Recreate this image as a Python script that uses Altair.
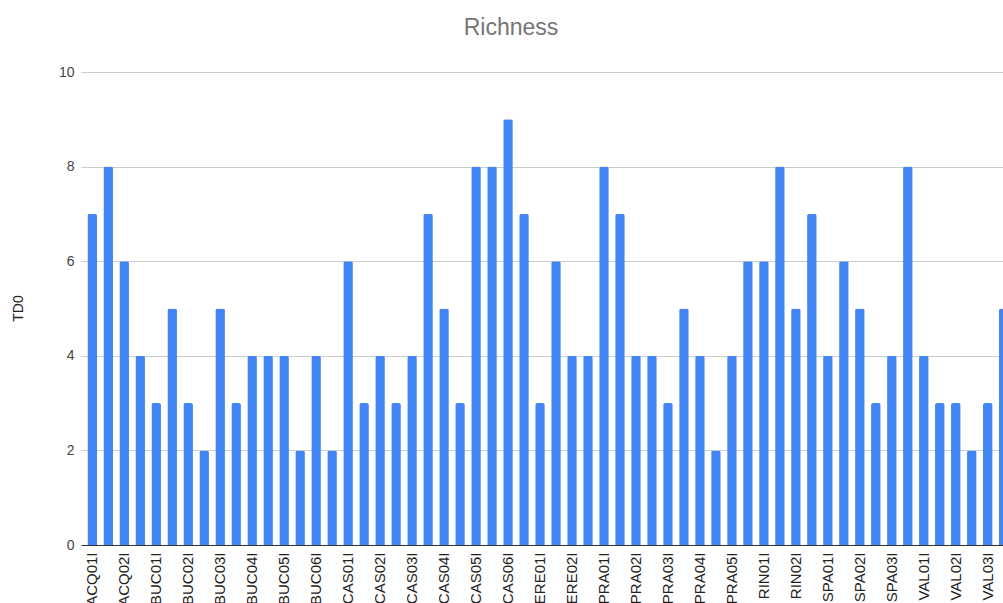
import altair as alt
import pandas as pd

samples = [
    "ACQ01I", "ACQ01F", "ACQ02I", "ACQ02F", "BUC01I", "BUC01F", "BUC02I", "BUC02F",
    "BUC03I", "BUC03F", "BUC04I", "BUC04F", "BUC05I", "BUC05F", "BUC06I", "BUC06F",
    "CAS01I", "CAS01F", "CAS02I", "CAS02F", "CAS03I", "CAS03F", "CAS04I", "CAS04F",
    "CAS05I", "CAS05F", "CAS06I", "CAS06F", "ERE01I", "ERE01F", "ERE02I", "ERE02F",
    "PRA01I", "PRA01F", "PRA02I", "PRA02F", "PRA03I", "PRA03F", "PRA04I", "PRA04F",
    "PRA05I", "PRA05F", "RIN01I", "RIN01F", "RIN02I", "RIN02F", "SPA01I", "SPA01F",
    "SPA02I", "SPA02F", "SPA03I", "SPA03F", "VAL01I", "VAL01F", "VAL02I", "VAL02F",
    "VAL03I", "VAL03F",
]
td0 = [
    7, 8, 6, 4, 3, 5, 3, 2,
    5, 3, 4, 4, 4, 2, 4, 2,
    6, 3, 4, 3, 4, 7, 5, 3,
    8, 8, 9, 7, 3, 6, 4, 4,
    8, 7, 4, 4, 3, 5, 4, 2,
    4, 6, 6, 8, 5, 7, 4, 6,
    5, 3, 4, 8, 4, 3, 3, 2,
    3, 5,
]
labeled = samples[::2]

df = pd.DataFrame({"sample": samples, "TD0": td0})

chart = alt.Chart(df).mark_bar(
    color="#4285F4", cornerRadiusTopLeft=2, cornerRadiusTopRight=2
).encode(
    x=alt.X(
        "sample:N",
        sort=samples,
        scale=alt.Scale(range=[0, 934], paddingInner=0.4, paddingOuter=0.4),
        axis=alt.Axis(
            title=None,
            values=labeled,
            labelAngle=-90,
            labelAlign="right",
            labelBaseline="middle",
            labelPadding=7,
            labelFontSize=15,
            labelColor="#222222",
            labelFont="Liberation Sans",
            ticks=False,
            domainColor="#333333",
            grid=False,
            labelOverlap=False,
        ),
    ),
    y=alt.Y(
        "TD0:Q",
        scale=alt.Scale(domain=[0, 10]),
        axis=alt.Axis(
            title="TD0",
            values=[0, 2, 4, 6, 8, 10],
            labelFontSize=14,
            labelColor="#444444",
            labelFont="Liberation Sans",
            labelPadding=7,
            ticks=False,
            domain=False,
            gridColor="#cccccc",
            titleFontSize=14,
            titleFont="Liberation Sans",
            titleFontWeight="normal",
            titleColor="#222222",
            titleX=-63,
            titleY=236,
            titleAngle=-90,
            titleAlign="center",
            titleBaseline="middle",
        ),
    ),
).properties(
    width=922,
    height=473,
    title=alt.TitleParams(
        "Richness",
        fontSize=23,
        font="Liberation Sans",
        fontWeight="normal",
        color="#757575",
        anchor="middle",
        offset=25,
        dx=-31,
    ),
    autosize=alt.AutoSizeParams(type="none"),
    padding={"left": 81, "top": 72, "right": 0, "bottom": 58},
    background="white",
).configure_view(stroke=None)

chart.save("out.html", embed_options={"renderer": "svg", "actions": False})
